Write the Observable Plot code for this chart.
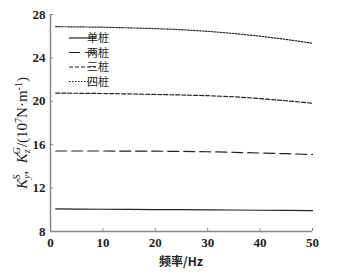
<!DOCTYPE html>
<html><head><meta charset="utf-8">
<script src="https://cdn.jsdelivr.net/npm/d3@7"></script>
<script src="https://cdn.jsdelivr.net/npm/@observablehq/plot@0.6"></script>
<style>
body{margin:0;background:#fff}
#chart{position:relative;width:357px;height:276px}
#chart svg{position:absolute;left:0;top:0}
#chart svg g[aria-label$="tick label"] text{font-family:"Liberation Serif","DejaVu Serif",serif !important;font-weight:bold;font-size:13px}
</style>
</head><body><div id="chart"></div>
<script>
const freq = [1,5,10,15,20,25,30,35,40,45,50];
const seriesNames = ["单桩","两桩","三桩","四桩"];
const single = [10.08,10.07,10.05,10.04,10.02,10.01,10.0,9.98,9.96,9.94,9.92];
const double = [15.42,15.42,15.42,15.41,15.40,15.38,15.35,15.30,15.23,15.17,15.10];
const triple = [20.75,20.74,20.72,20.68,20.63,20.58,20.52,20.42,20.25,20.05,19.82];
const quad   = [26.88,26.86,26.83,26.77,26.70,26.60,26.45,26.25,26.00,25.70,25.35];
const xTicks = [0,10,20,30,40,50];
const yTicks = [8,12,16,20,24,28];
const dashes = [null,"11,5","4,2","1.5,1.5"];
const values = [single,double,triple,quad];

const rows = [];
values.forEach((vals,i)=>vals.forEach((v,j)=>rows.push({f:freq[j],k:v,s:seriesNames[i]})));

const lineMarks = seriesNames.map((name,i)=>Plot.line(rows.filter(d=>d.s===name),{
  x:"f", y:"k", stroke:"#222", strokeWidth:1.2, strokeDasharray:dashes[i]
}));

const plot = Plot.plot({
  width:357, height:276,
  marginLeft:50, marginRight:45, marginTop:14, marginBottom:45,
  style:{fontSize:"13px", color:"#222", background:"#fff"},
  x:{domain:[0,50]},
  y:{domain:[8,28]},
  marks:[
    Plot.axisX({ticks:xTicks, tickSize:-3, tickPadding:9, label:null, stroke:"#888"}),
    Plot.axisY({ticks:yTicks, tickSize:-3, tickPadding:8, label:null, stroke:"#888"}),
    Plot.ruleX([0],{stroke:"#888", strokeWidth:1.5}),
    Plot.ruleY([8],{stroke:"#888", strokeWidth:1.5}),
    ...lineMarks
  ]
});
document.getElementById("chart").appendChild(plot);

const svg = d3.select(plot);
svg.attr("font-family","Liberation Serif");

// x label
svg.append("text").attr("x",181).attr("y",266).attr("text-anchor","middle")
  .style("font-family","'Noto Sans CJK SC'").style("font-size","12px").style("font-weight","bold")
  .attr("fill","#222").text("频率/Hz");

// y label
const yl = svg.append("text").attr("transform","translate(27,133) rotate(-90)").attr("text-anchor","middle")
  .style("font-family","'Liberation Serif','DejaVu Serif',serif").style("font-size","15px").attr("fill","#222");
yl.append("tspan").attr("font-style","italic").text("K");
yl.append("tspan").attr("font-style","italic").attr("font-size","10px").attr("dy","3").text("y");
yl.append("tspan").attr("font-style","italic").attr("font-size","10px").attr("dx","-5").attr("dy","-10").text("S");
yl.append("tspan").attr("dy","7").text(",  ");
yl.append("tspan").attr("font-style","italic").text("K");
yl.append("tspan").attr("font-style","italic").attr("font-size","10px").attr("dy","3").text("z");
yl.append("tspan").attr("font-style","italic").attr("font-size","10px").attr("dx","-5").attr("dy","-10").text("G");
yl.append("tspan").attr("dy","7").text("/(10");
yl.append("tspan").attr("font-size","10px").attr("dy","-5").text("7");
yl.append("tspan").attr("dy","5").text("N·m");
yl.append("tspan").attr("font-size","10px").attr("dy","-5").text("-1");
yl.append("tspan").attr("dy","5").text(")");

// legend
const leg = svg.append("g");
seriesNames.forEach((name,i)=>{
  const y = 38 + i*14.5;
  leg.append("line").attr("x1",69).attr("x2",96).attr("y1",y).attr("y2",y)
    .attr("stroke","#222").attr("stroke-width",1.2).attr("stroke-dasharray",dashes[i]);
  leg.append("text").attr("x",98).attr("y",y+4)
    .style("font-family","'Noto Sans CJK SC'").style("font-size","11px")
    .attr("fill","#222").text(name);
});
</script>
</body></html>
